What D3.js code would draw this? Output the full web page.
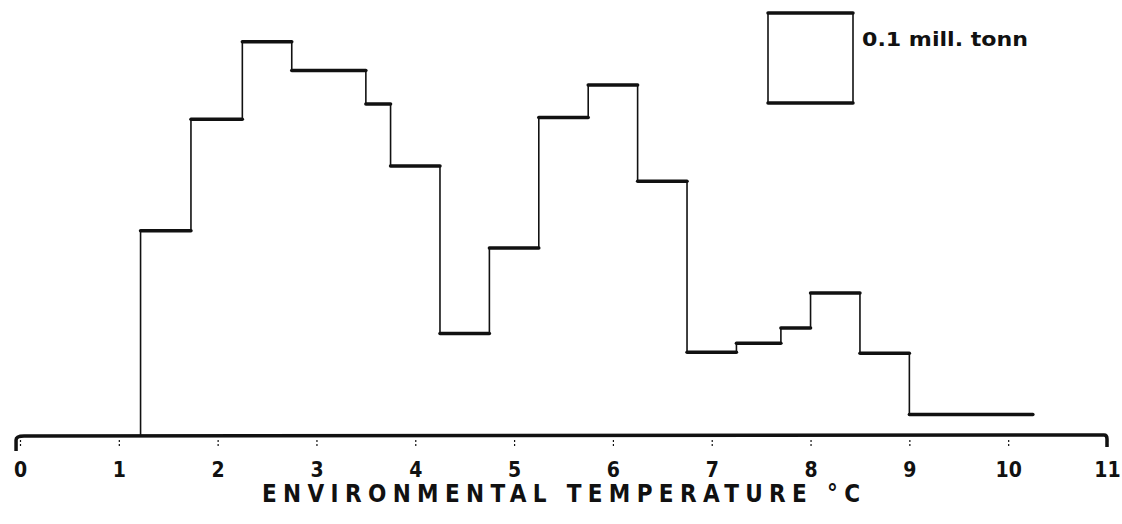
<!DOCTYPE html>
<html>
<head>
<meta charset="utf-8">
<script src="https://cdn.jsdelivr.net/npm/d3@7"></script>
<style>
  body { margin: 0; background: #fff; }
  svg { display: block; }
</style>
</head>
<body>
<div id="chart"></div>
<script>
// bin edges in deg C, catch per bin in mill. tonn
const edges = [1.22, 1.73, 2.25, 2.75, 3.5, 3.75, 4.25, 4.75, 5.25, 5.75, 6.25, 6.75, 7.25, 7.7, 8, 8.5, 9, 10.25];
const catchMt = [0.228, 0.352, 0.438, 0.406, 0.369, 0.300, 0.114, 0.209, 0.354, 0.390, 0.283, 0.093, 0.103, 0.120, 0.159, 0.092, 0.024];
const ticks = [0, 1, 2, 3, 4, 5, 6, 7, 8, 9, 10, 11];
const legendValue = 0.1;
const legendLabel = "0.1 mill. tonn";
const xTitle = "ENVIRONMENTAL TEMPERATURE \u00B0C";

const width = 1122,
  height = 524;

const font = "'DejaVu Sans Condensed', sans-serif";

const x = d3.scaleLinear().domain([0, 11]).range([20, 1107]);
const y = d3.scaleLinear().domain([0, 0.1]).range([436, 346]);

const svg = d3.select("#chart").append("svg")
  .attr("width", width)
  .attr("height", height)
  .attr("viewBox", [0, 0, width, height]);

const ink = "#111";

// horizontal tops of the bins
const bins = catchMt.map((v, i) => ({ x0: edges[i], x1: edges[i + 1], v: v }));

svg.append("g")
  .selectAll("line")
  .data(bins)
  .join("line")
  .attr("x1", d => x(d.x0))
  .attr("x2", d => x(d.x1))
  .attr("y1", d => y(d.v))
  .attr("y2", d => y(d.v))
  .attr("stroke", ink)
  .attr("stroke-width", 3.5)
  .attr("stroke-linecap", "round");

// vertical risers between bins
const risers = edges.slice(0, -1).map((e, i) => ({
  e: e,
  from: i === 0 ? 0 : catchMt[i - 1],
  to: catchMt[i]
}));

svg.append("g")
  .selectAll("line")
  .data(risers)
  .join("line")
  .attr("x1", d => x(d.e))
  .attr("x2", d => x(d.e))
  .attr("y1", d => y(d.from))
  .attr("y2", d => y(d.to))
  .attr("stroke", ink)
  .attr("stroke-width", 1.6);

// axis
const axis = d3.axisBottom(x)
  .tickValues(ticks)
  .tickSize(7)
  .tickPadding(15)
  .tickFormat(d3.format("d"));

const gx = svg.append("g")
  .attr("transform", `translate(0,${y(0) + 4})`)
  .call(axis);

gx.select(".domain").remove();
gx.selectAll(".tick line")
  .attr("stroke", ink)
  .attr("stroke-width", 1.2)
  .attr("stroke-dasharray", "2,2");
gx.selectAll(".tick text")
  .attr("fill", ink)
  .style("font-family", font)
  .style("font-weight", "bold")
  .style("font-size", "21px");

// thick base line with the hooked ends
const x0 = x(-0.04), x11 = x(11);
svg.append("path")
  .attr("d", `M${x0},${y(0) + 15} L${x0},${y(0) + 4} Q${x0},${y(0)} ${x0 + 8},${y(0)} L${x11 - 3},${y(0) - 1} Q${x11},${y(0) - 1} ${x11},${y(0) + 3} L${x11},${y(0) + 11}`)
  .attr("fill", "none")
  .attr("stroke", ink)
  .attr("stroke-width", 3.5);

svg.append("text")
  .attr("x", 262)
  .attr("y", 502)
  .attr("textLength", 598)
  .attr("lengthAdjust", "spacing")
  .attr("fill", ink)
  .style("font-family", font)
  .style("font-weight", "bold")
  .style("font-size", "24px")
  .text(xTitle);

// scale box legend
const lx = 768, ly = 13, lw = 85, lh = y(0) - y(legendValue);
const leg = svg.append("g");
leg.append("line")
  .attr("x1", lx).attr("x2", lx)
  .attr("y1", ly).attr("y2", ly + lh)
  .attr("stroke", ink).attr("stroke-width", 1.6);
leg.append("line")
  .attr("x1", lx + lw).attr("x2", lx + lw)
  .attr("y1", ly).attr("y2", ly + lh)
  .attr("stroke", ink).attr("stroke-width", 1.6);
leg.selectAll("line.h")
  .data([ly, ly + lh])
  .join("line")
  .attr("class", "h")
  .attr("x1", lx).attr("x2", lx + lw)
  .attr("y1", d => d).attr("y2", d => d)
  .attr("stroke", ink).attr("stroke-width", 3.5)
  .attr("stroke-linecap", "round");
leg.append("text")
  .attr("x", lx + lw + 9)
  .attr("y", 46)
  .attr("textLength", 166)
  .attr("lengthAdjust", "spacingAndGlyphs")
  .attr("fill", ink)
  .style("font-family", font)
  .style("font-weight", "bold")
  .style("font-size", "20px")
  .text(legendLabel);
</script>
</body>
</html>
